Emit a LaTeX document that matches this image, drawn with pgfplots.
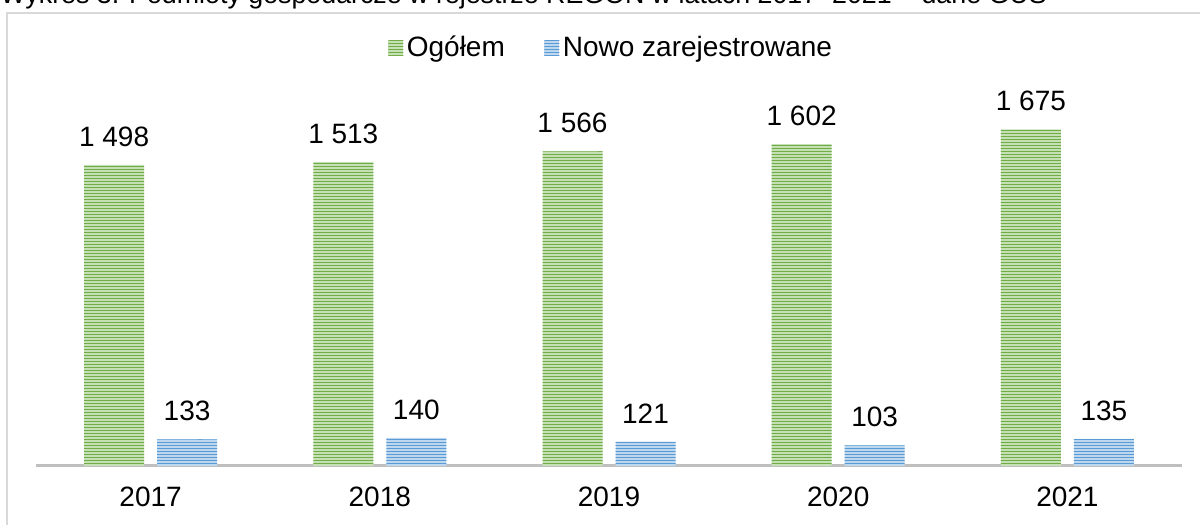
\documentclass[border=0pt]{standalone}
\usepackage{fontspec}
\setmainfont{Liberation Sans}
\usepackage{pgfplots}
\pgfplotsset{compat=1.18}
\usetikzlibrary{patterns}
\pgfdeclarepatternformonly{hstripes}{\pgfqpoint{-1pt}{-1pt}}{\pgfqpoint{101pt}{2.5pt}}{\pgfqpoint{100pt}{1.5pt}}{%
  \pgfsetlinewidth{0.9pt}%
  \pgfpathmoveto{\pgfqpoint{-1pt}{0.75pt}}%
  \pgfpathlineto{\pgfqpoint{101pt}{0.75pt}}%
  \pgfusepath{stroke}}
\definecolor{gdark}{HTML}{70AD47}
\definecolor{glight}{HTML}{C5E0B4}
\definecolor{bdark}{HTML}{5B9BD5}
\definecolor{blight}{HTML}{BDD7EE}
\definecolor{framegray}{HTML}{D9D9D9}
\definecolor{axisgray}{HTML}{BFBFBF}
\begin{document}
\begin{tikzpicture}[font=\fontsize{14}{16.8}\selectfont]
\useasboundingbox (0,0) rectangle (600pt,262.5pt);
\draw[framegray, line width=1pt] (3.7pt,-20pt) rectangle (640pt,256pt);
\node[anchor=base west, inner sep=0pt, font=\fontsize{13.4}{16}\selectfont] at (0pt,260.8pt) {Wykres 3. Podmioty gospodarcze w rejestrze REGON w latach 2017–2021 – dane GUS};
\begin{axis}[
  at={(18pt,29.5pt)}, anchor=south west,
  scale only axis, width=573pt, height=192.5pt,
  ybar=6.5pt, bar width=30pt,
  xmin=-0.5, xmax=4.5, ymin=0, ymax=1916,
  enlargelimits=false,
  axis x line*=bottom, axis y line=none,
  x axis line style={-, draw=axisgray, line width=1.5pt},
  xtick={0,...,4}, xticklabels={2017,2018,2019,2020,2021},
  major tick length=0pt,
  xticklabel style={inner sep=0pt, anchor=north, yshift=-10.5pt},
  ytick=\empty,
  clip=false,
  nodes near coords={\pgfmathprintnumber[assume math mode=true,1000 sep={\ }]{\pgfplotspointmeta}},
  every node near coord/.append style={anchor=south, inner sep=0pt, yshift=9pt, text=black},
  legend style={at={(0.5026,1.0857)}, anchor=center, draw=none, fill=none,
    legend columns=-1, nodes={inner sep=1.75pt},
    /tikz/every even column/.append style={column sep=18pt}},
  legend image code/.code={\path[#1] (0pt,-3.75pt) rectangle (7.5pt,3.75pt);},
]
\addplot[draw=none, fill=glight, postaction={pattern=hstripes, pattern color=gdark}]
  coordinates {(0,1498) (1,1513) (2,1566) (3,1602) (4,1675)};
\addplot[draw=none, fill=blight, postaction={pattern=hstripes, pattern color=bdark}]
  coordinates {(0,133) (1,140) (2,121) (3,103) (4,135)};
\legend{Ogółem, Nowo zarejestrowane}
\end{axis}
\end{tikzpicture}
\end{document}
